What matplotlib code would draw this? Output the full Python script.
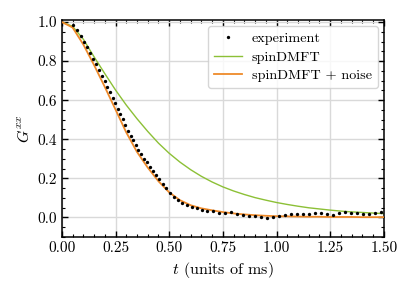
import numpy as np
import matplotlib
matplotlib.use('Agg')
import matplotlib.pyplot as plt

# experiment (dots)
t_exp = [0.050, 0.070, 0.088, 0.104, 0.119, 0.133, 0.147, 0.160, 0.173, 0.186,
         0.199, 0.212, 0.224, 0.236, 0.248, 0.260, 0.272, 0.284, 0.296, 0.308,
         0.320, 0.332, 0.344, 0.357, 0.370, 0.383, 0.396, 0.410, 0.424, 0.439,
         0.454, 0.470, 0.487, 0.505, 0.523, 0.542, 0.562, 0.583, 0.605, 0.628,
         0.652, 0.677, 0.703, 0.730, 0.758, 0.786, 0.814, 0.842, 0.870, 0.898,
         0.926, 0.954, 0.982, 1.010, 1.038, 1.066, 1.094, 1.122, 1.150, 1.178,
         1.206, 1.234, 1.262, 1.290, 1.318, 1.346, 1.374, 1.402, 1.430, 1.458,
         1.486]
g_exp = [0.985, 0.958, 0.927, 0.899, 0.870, 0.841, 0.812, 0.784, 0.755, 0.726,
         0.697, 0.668, 0.640, 0.612, 0.584, 0.557, 0.529, 0.501, 0.472, 0.444,
         0.419, 0.395, 0.371, 0.345, 0.322, 0.301, 0.281, 0.258, 0.238, 0.217,
         0.196, 0.172, 0.148, 0.126, 0.106, 0.089, 0.075, 0.064, 0.055, 0.047,
         0.040, 0.035, 0.031, 0.022, 0.021, 0.025, 0.019, 0.010, 0.008, 0.007,
         0.000, -0.004, 0.004, 0.009, 0.012, 0.015, 0.017, 0.017, 0.019, 0.021,
         0.020, 0.019, 0.013, 0.024, 0.025, 0.023, 0.020, 0.016, 0.016, 0.020,
         0.025]

# theory curves
t_th = [0.00, 0.05, 0.10, 0.15, 0.20, 0.25, 0.30, 0.35, 0.40, 0.45, 0.50,
        0.55, 0.60, 0.65, 0.70, 0.75, 0.80, 0.85, 0.90, 0.95, 1.00,
        1.05, 1.10, 1.15, 1.20, 1.25, 1.30, 1.35, 1.40, 1.45, 1.50]
g_dmft = [1.000, 0.978, 0.912, 0.822, 0.736, 0.652, 0.575, 0.505, 0.440, 0.380, 0.328,
          0.283, 0.244, 0.210, 0.181, 0.156, 0.135, 0.117, 0.101, 0.088, 0.076,
          0.066, 0.057, 0.049, 0.043, 0.037, 0.032, 0.028, 0.025, 0.022, 0.019]
g_noise = [1.000, 0.972, 0.885, 0.780, 0.668, 0.552, 0.435, 0.335, 0.255, 0.185, 0.128,
           0.088, 0.062, 0.046, 0.036, 0.027, 0.020, 0.015, 0.011, 0.008, 0.006,
           0.005, 0.004, 0.003, 0.003, 0.002, 0.002, 0.002, 0.001, 0.001, 0.001]

plt.rcParams['font.family'] = 'serif'
plt.rcParams['font.serif'] = ['cmr10']
plt.rcParams['mathtext.fontset'] = 'cm'
plt.rcParams['axes.formatter.use_mathtext'] = True
plt.rcParams['font.size'] = 10.5
plt.rcParams['axes.unicode_minus'] = False

fig = plt.figure(figsize=(4.15, 2.95), dpi=100)
ax = fig.add_axes([0.149, 0.197, 0.776, 0.735])

ax.plot(t_exp, g_exp, 'o', color='black', markersize=2.4, markeredgewidth=0,
        label='experiment', zorder=4)
ax.plot(t_th, g_dmft, color='#8cc036', lw=1.0, label='spinDMFT', zorder=2)
ax.plot(t_th, g_noise, color='#ee8a2a', lw=1.3, label='spinDMFT + noise', zorder=3)

ax.set_xlim(0, 1.5)
ax.set_ylim(-0.1, 1.01)
ax.set_xticks([0, 0.25, 0.5, 0.75, 1.0, 1.25, 1.5])
ax.set_yticks([0, 0.2, 0.4, 0.6, 0.8, 1.0])
ax.xaxis.set_major_formatter(matplotlib.ticker.FormatStrFormatter('%.2f'))
ax.yaxis.set_major_formatter(matplotlib.ticker.FormatStrFormatter('%.1f'))
ax.xaxis.set_minor_locator(matplotlib.ticker.MultipleLocator(0.05))
ax.yaxis.set_minor_locator(matplotlib.ticker.MultipleLocator(0.05))
ax.tick_params(which='both', direction='in', top=True, right=True)
ax.tick_params(which='major', length=4, width=1, labelsize=11)
ax.tick_params(which='minor', length=2, width=0.8)
for s in ax.spines.values():
    s.set_linewidth(1.1)
ax.grid(True, which='major', color='#d9d9d9', lw=1.0)
ax.set_axisbelow(True)

ax.set_xlabel('$t$ (units of ms)', fontsize=11.5, labelpad=3)
ax.set_ylabel('$G^{xx}$', fontsize=11.5)
ax.legend(loc='upper right', fontsize=10.2, fancybox=True, framealpha=0.8,
          edgecolor='#cccccc', borderaxespad=0.45, labelspacing=0.4,
          handletextpad=0.7)

fig.savefig('out.png', dpi=100)
